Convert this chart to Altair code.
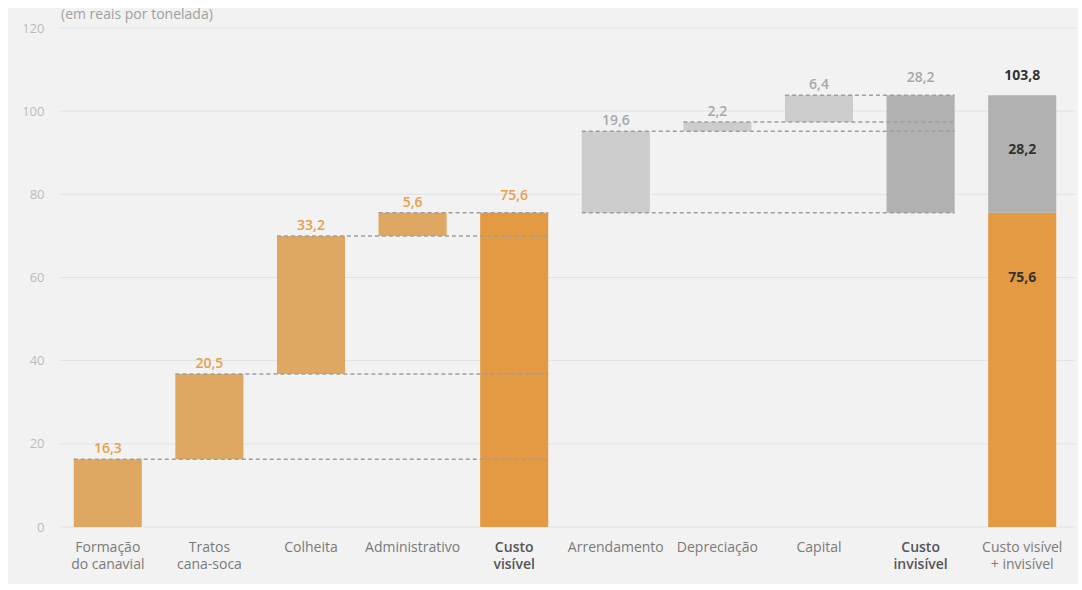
import altair as alt
import pandas as pd

# ---------------- data ----------------
categories = [
    "Formação\ndo canavial", "Tratos\ncana-soca", "Colheita", "Administrativo",
    "Custo\nvisível", "Arrendamento", "Depreciação", "Capital",
    "Custo\ninvisível", "Custo visível\n+ invisível",
]
values = [16.3, 20.5, 33.2, 5.6, 75.6, 19.6, 2.2, 6.4, 28.2, 103.8]
kinds = ["step", "step", "step", "step", "total",
         "step", "step", "step", "total", "final"]
groups = ["vis", "vis", "vis", "vis", "vis",
          "inv", "inv", "inv", "inv", "all"]
final_parts = [75.6, 28.2]          # stacked final bar: visível, invisível
y_ticks = [0, 20, 40, 60, 80, 100, 120]
unit_note = "(em reais por tonelada)"

# ---------------- styles ----------------
W, H = 1016, 499
HALF = 0.335
C_STEP = {"vis": "#DEA862", "inv": "#CDCDCD"}
C_TOTAL = {"vis": "#E39A43", "inv": "#B1B1B1"}
C_LABEL = {"vis": "#E4A14E", "inv": "#A8A8A8", "all": "#333333"}
FONT = "Open Sans"


def fmt(v):
    return f"{v:.1f}".replace(".", ",")


# ---------------- build tables ----------------
bars, rules, labels = [], [], []
running = 0.0
group_start = {}
group_start_idx = {}
for i, (v, k, g) in enumerate(zip(values, kinds, groups)):
    if k == "step":
        if g not in group_start:
            group_start[g] = running
            group_start_idx[g] = i
        y0, y1 = running, running + v
        running = y1
        bars.append(dict(i=i, y0=y0, y1=y1, c=C_STEP[g]))
        labels.append(dict(i=i, y=y1, t=fmt(v), c=C_LABEL[g], k=k))
    elif k == "total":
        y0 = 0.0 if g == "vis" else group_start[g]
        y1 = y0 + v
        bars.append(dict(i=i, y0=y0, y1=y1, c=C_TOTAL[g]))
        labels.append(dict(i=i, y=y1, t=fmt(v), c=C_LABEL[g], k=k))
    else:
        bars.append(dict(i=i, y0=0.0, y1=final_parts[0], c=C_TOTAL["vis"]))
        bars.append(dict(i=i, y0=final_parts[0], y1=final_parts[0] + final_parts[1], c=C_TOTAL["inv"]))
        labels.append(dict(i=i, y=v, t=fmt(v), c=C_LABEL[g], k=k))

# dashed connector rules: from left edge of each step bar to right edge of group total
total_idx = {g: i for i, (k, g) in enumerate(zip(kinds, groups)) if k == "total"}
for b in bars:
    i = b["i"]
    if kinds[i] == "step":
        g = groups[i]
        rules.append(dict(y=b["y1"], x0=i - HALF, x1=total_idx[g] + HALF))
        if g == "inv" and i == group_start_idx[g]:
            rules.append(dict(y=b["y0"], x0=i - HALF, x1=total_idx[g] + HALF))

bars_df = pd.DataFrame(bars)
bars_df["x0"] = bars_df["i"] - HALF
bars_df["x1"] = bars_df["i"] + HALF
rules_df = pd.DataFrame(rules)
labels_df = pd.DataFrame(labels)
inner_top = pd.DataFrame([dict(i=9, y=final_parts[0] + final_parts[1], t=fmt(final_parts[1]))])
inner_bottom = pd.DataFrame([dict(i=9, y=final_parts[0], t=fmt(final_parts[0]))])
cats_df = pd.DataFrame(dict(i=list(range(len(categories))), t=categories,
                            bold=[k == "total" for k in kinds]))
grid_df = pd.DataFrame(dict(g=y_ticks))

xs = alt.Scale(domain=[-0.5, len(categories) - 0.5], nice=False, zero=False)
ys = alt.Scale(domain=[0, 120], nice=False)

# ---------------- layers ----------------
background = alt.Chart(pd.DataFrame({"a": [0]})).mark_rect(color="#F2F2F2").encode(
    x=alt.value(-49), x2=alt.value(W + 5), y=alt.value(-20), y2=alt.value(H + 57)
)

grid = alt.Chart(grid_df).mark_rule(color="#E2E2E2", strokeWidth=1).encode(
    y=alt.Y("g:Q", scale=ys,
            axis=alt.Axis(values=y_ticks, grid=False, domain=False, ticks=False,
                          labelColor="#BBBBBB", labelFontSize=13, labelFont=FONT,
                          labelPadding=13, title=None, zindex=1)),
    x=alt.value(3), x2=alt.value(W + 2),
)

bar_layer = alt.Chart(bars_df).mark_rect().encode(
    x=alt.X("x0:Q", scale=xs, axis=None),
    x2="x1:Q",
    y=alt.Y("y0:Q", scale=ys),
    y2="y1:Q",
    color=alt.Color("c:N", scale=None),
)

rule_layer = alt.Chart(rules_df).mark_rule(
    color="#9E9E9E", strokeDash=[4, 3], strokeWidth=1.5
).encode(
    x=alt.X("x0:Q", scale=xs, axis=None), x2="x1:Q",
    y=alt.Y("y:Q", scale=ys),
)

step_labels = alt.Chart(labels_df[labels_df.k == "step"]).mark_text(
    font=FONT, fontSize=14, fontWeight=600, baseline="bottom", dy=-3
).encode(
    x=alt.X("i:Q", scale=xs, axis=None), y=alt.Y("y:Q", scale=ys),
    text="t:N", color=alt.Color("c:N", scale=None),
)

total_labels = alt.Chart(labels_df[labels_df.k == "total"]).mark_text(
    font=FONT, fontSize=14, fontWeight=600, baseline="bottom", dy=-10
).encode(
    x=alt.X("i:Q", scale=xs, axis=None), y=alt.Y("y:Q", scale=ys),
    text="t:N", color=alt.Color("c:N", scale=None),
)

final_label = alt.Chart(labels_df[labels_df.k == "final"]).mark_text(
    font=FONT, fontSize=14, fontWeight="bold", baseline="bottom", dy=-12
).encode(
    x=alt.X("i:Q", scale=xs, axis=None), y=alt.Y("y:Q", scale=ys),
    text="t:N", color=alt.Color("c:N", scale=None),
)

inner_top_labels = alt.Chart(inner_top).mark_text(
    font=FONT, fontSize=14, fontWeight="bold", color="#333333", baseline="middle", dy=55
).encode(
    x=alt.X("i:Q", scale=xs, axis=None), y=alt.Y("y:Q", scale=ys), text="t:N",
)

inner_bottom_labels = alt.Chart(inner_bottom).mark_text(
    font=FONT, fontSize=14, fontWeight="bold", color="#333333", baseline="middle", dy=65
).encode(
    x=alt.X("i:Q", scale=xs, axis=None), y=alt.Y("y:Q", scale=ys), text="t:N",
)

cat_normal = alt.Chart(cats_df[~cats_df.bold]).mark_text(
    font=FONT, fontSize=14, baseline="top", lineBreak="\n", lineHeight=17, color="#7A7A7A"
).encode(
    x=alt.X("i:Q", scale=xs, axis=None), y=alt.value(H + 14), text="t:N",
)

cat_bold = alt.Chart(cats_df[cats_df.bold]).mark_text(
    font=FONT, fontSize=14, baseline="top", lineBreak="\n", lineHeight=17,
    color="#555555", fontWeight=600
).encode(
    x=alt.X("i:Q", scale=xs, axis=None), y=alt.value(H + 14), text="t:N",
)

note = alt.Chart(pd.DataFrame({"t": [unit_note]})).mark_text(
    font=FONT, fontSize=14, color="#A0A0A0", align="left", baseline="middle"
).encode(x=alt.value(4), y=alt.value(-13), text="t:N")

chart = alt.layer(
    background, grid, bar_layer, rule_layer, step_labels, total_labels,
    final_label, inner_top_labels, inner_bottom_labels, cat_normal, cat_bold, note
).properties(
    width=W, height=H,
    autosize=alt.AutoSizeParams(type="none"),
    padding={"left": 57, "top": 28, "right": 9, "bottom": 63},
    background="white",
).configure_view(stroke=None)

chart.save("out.html", embed_options={"renderer": "svg", "actions": False})
